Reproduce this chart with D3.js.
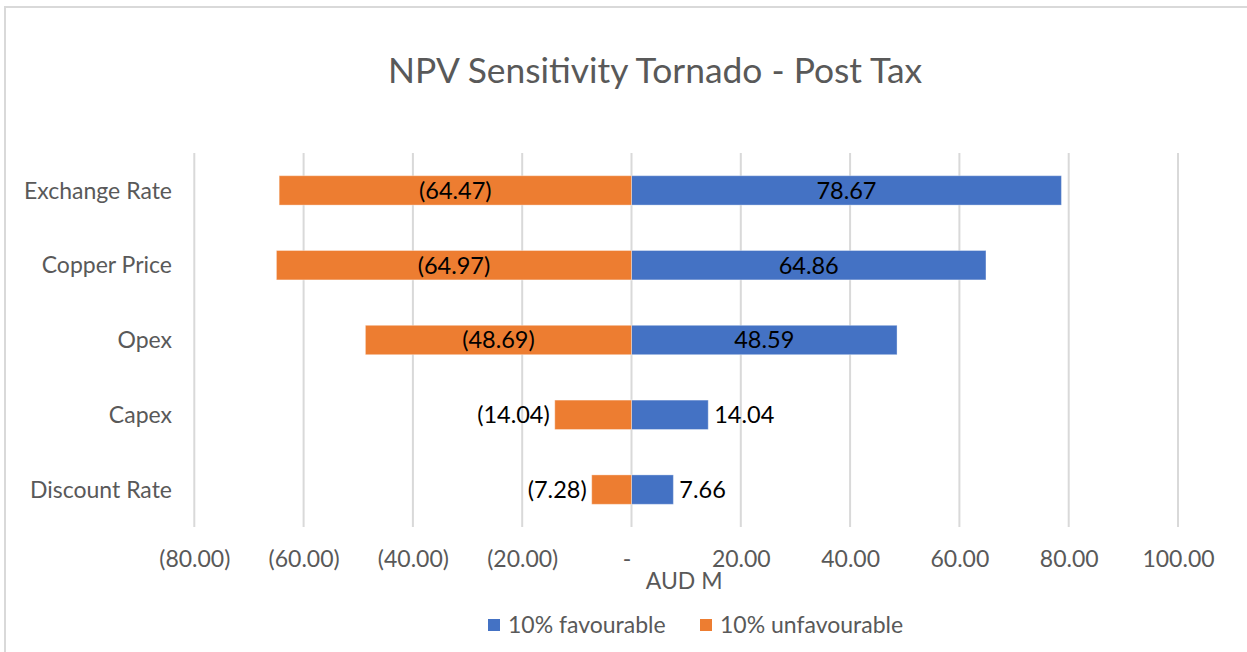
<!DOCTYPE html>
<html>
<head>
<meta charset="utf-8">
<script src="https://cdn.jsdelivr.net/npm/d3@7"></script>
<style>
  body { margin: 0; background: #fff; }
  svg { display: block; font-family: Lato, "Liberation Sans", sans-serif; }
</style>
</head>
<body>
<svg id="chart" width="1247" height="652"></svg>
<script>
// data
const categories = ["Exchange Rate", "Copper Price", "Opex", "Capex", "Discount Rate"];
const favourable = [78.67, 64.86, 48.59, 14.04, 7.66];
const unfavourable = [-64.47, -64.97, -48.69, -14.04, -7.28];
const xTicks = [-80, -60, -40, -20, 0, 20, 40, 60, 80, 100];
const seriesNames = ["10% favourable", "10% unfavourable"];
const seriesColors = ["#4472C4", "#ED7D31"];

const svg = d3.select("#chart");
const textGrey = "#595959";
const fontSize = "23px";

// chart area border (Excel frame)
svg.append("rect")
    .attr("x", 5).attr("y", 7)
    .attr("width", 1400).attr("height", 800)
    .attr("fill", "none")
    .attr("stroke", "#d9d9d9")
    .attr("stroke-width", 2);

svg.append("text")
    .attr("x", 655).attr("y", 83)
    .attr("text-anchor", "middle")
    .attr("fill", textGrey)
    .style("font-size", "35.4px")
    .text("NPV Sensitivity Tornado - Post Tax");

const plot = { left: 194.3, right: 1178, top: 153, bottom: 527 };

const x = d3.scaleLinear()
    .domain([-80, 100])
    .range([plot.left, plot.right]);

const y = d3.scaleBand()
    .domain(categories)
    .range([plot.top, plot.bottom])
    .paddingInner(0.607)
    .paddingOuter(0.3035);

const fmt = v => {
    if (v === 0) return "-";
    const s = d3.format(",.2f")(Math.abs(v));
    return v < 0 ? `(${s})` : s;
};

// gridlines
svg.append("g")
    .attr("class", "grid")
    .selectAll("line")
    .data(xTicks)
    .join("line")
    .attr("x1", d => x(d)).attr("x2", d => x(d))
    .attr("y1", plot.top).attr("y2", plot.bottom)
    .attr("stroke", "#d9d9d9")
    .attr("stroke-width", 2);

// x axis labels
const xAxis = svg.append("g")
    .attr("class", "x axis")
    .attr("transform", `translate(0,${plot.bottom})`)
    .call(d3.axisBottom(x).tickValues(xTicks).tickFormat(fmt).tickSize(0));
xAxis.select(".domain").remove();
xAxis.selectAll("text")
    .attr("y", 40).attr("dy", 0)
    .attr("dx", d => d === 0 ? -5 : 0)
    .attr("fill", textGrey)
    .style("font-family", "Lato, 'Liberation Sans', sans-serif")
    .style("font-size", fontSize);

// category labels
svg.append("g")
    .selectAll("text")
    .data(categories)
    .join("text")
    .attr("x", 172)
    .attr("y", d => y(d) + y.bandwidth() / 2)
    .attr("dy", "0.36em")
    .attr("text-anchor", "end")
    .attr("fill", textGrey)
    .style("font-size", fontSize)
    .text(d => d);

// bars
const rows = [];
categories.forEach((c, i) => {
    rows.push({ cat: c, value: favourable[i], s: 0 });
    rows.push({ cat: c, value: unfavourable[i], s: 1 });
});

svg.append("g")
    .selectAll("rect")
    .data(rows)
    .join("rect")
    .attr("x", d => Math.min(x(0), x(d.value)))
    .attr("y", d => y(d.cat))
    .attr("width", d => Math.abs(x(d.value) - x(0)))
    .attr("height", y.bandwidth())
    .attr("fill", d => seriesColors[d.s])
    .attr("stroke", "#ffffff")
    .attr("stroke-opacity", 0.35)
    .attr("stroke-width", 1);

// data labels: centred when they fit, outside the bar end otherwise
const labels = svg.append("g")
    .selectAll("text")
    .data(rows)
    .join("text")
    .attr("y", d => y(d.cat) + y.bandwidth() / 2)
    .attr("dy", "0.36em")
    .attr("fill", "#000")
    .style("font-size", "23.5px")
    .text(d => fmt(d.value));

labels.each(function(d) {
    const w = this.getComputedTextLength();
    const barW = Math.abs(x(d.value) - x(0));
    const t = d3.select(this);
    if (barW > w + 40) {
        t.attr("x", (x(0) + x(d.value)) / 2).attr("text-anchor", "middle");
    } else if (d.value < 0) {
        t.attr("x", x(d.value) - 5).attr("text-anchor", "end");
    } else {
        t.attr("x", x(d.value) + 6).attr("text-anchor", "start");
    }
});

// axis title
svg.append("text")
    .attr("x", (plot.left + plot.right) / 2 - 2)
    .attr("y", 589)
    .attr("text-anchor", "middle")
    .attr("fill", textGrey)
    .style("font-size", fontSize)
    .text("AUD M");

// legend
const legendX = [488, 700];
const legend = svg.append("g")
    .selectAll("g")
    .data(seriesNames)
    .join("g")
    .attr("transform", (d, i) => `translate(${legendX[i]},619)`);
legend.append("rect")
    .attr("width", 12).attr("height", 12)
    .attr("fill", (d, i) => seriesColors[i]);
legend.append("text")
    .attr("x", 20).attr("y", 14)
    .attr("fill", textGrey)
    .style("font-size", fontSize)
    .text(d => d);
</script>
</body>
</html>
